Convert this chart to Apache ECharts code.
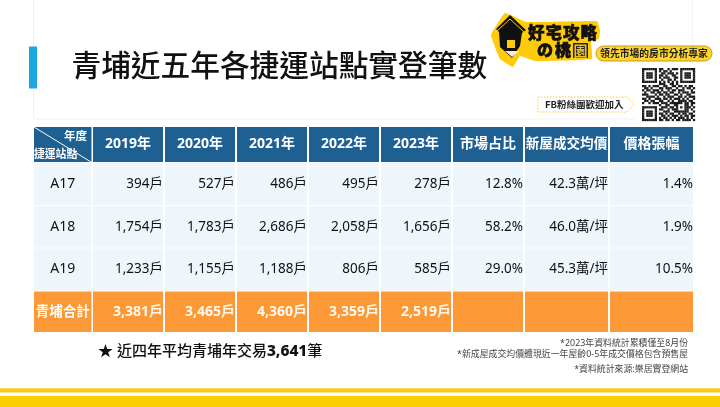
<!DOCTYPE html>
<html><head><meta charset="utf-8">
<style>html,body{margin:0;padding:0;background:#fff}#c{width:720px;height:407px}</style>
<script src="https://cdn.jsdelivr.net/npm/echarts@6/dist/echarts.min.js"></script>
</head><body><div id="c"></div>
<script>
const titleText = '青埔近五年各捷運站點實登筆數';
const years = ['2019年','2020年','2021年','2022年','2023年'];
const extraHeaders = ['市場占比','新屋成交均價','價格張幅'];
const stations = ['A17','A18','A19'];
const a17 = [394,527,486,495,278];
const a18 = [1754,1783,2686,2058,1656];
const a19 = [1233,1155,1188,806,585];
const totalLabel = '青埔合計';
const totals = [3381,3465,4360,3359,2519];
const share = [12.8,58.2,29.0];
const avgPrice = [42.3,46.0,45.3];
const priceChange = [1.4,1.9,10.5];
const fourYearAvg = 3641;
const notes = ['*2023年資料統計累積僅至8月份','*新成屋成交均價體現近一年屋齡0-5年成交價格包含預售屋','*資料統計來源:樂居實登網站'];

const colL = [34,93,165,237,309,381,453,525,610];
const colR = [91.5,163,235,307,379,451,523,608,693];
const rowT = [127,163,206,248.5,291.5];
const rowB = [162,205,247.5,290.5,332];
const BLUE='#1F6093', PALE='#EEF6FC', ORANGE='#FC9936';
const CJK='"Noto Sans","Noto Sans CJK TC",sans-serif';

const fmt = n => n.toLocaleString('en-US');
const cells = [];
function add(c,r,text,align,fill,bg,weight,size){cells.push({value:[c,r],text,align,fill,bg,weight,size});}
add(0,0,'','center','#fff',BLUE,'bold',14);
years.concat(extraHeaders).forEach((t,i)=>add(i+1,0,t,'center','#fff',BLUE,'bold',i===6?13.6:14));
[a17,a18,a19].forEach((arr,r)=>{
  add(0,r+1,stations[r],'center','#111',PALE,'normal',14);
  arr.forEach((v,i)=>add(i+1,r+1,fmt(v)+'戶','right','#111',PALE,'normal',13.5));
  add(6,r+1,share[r].toFixed(1)+'%','right','#111',PALE,'normal',13.5);
  add(7,r+1,avgPrice[r].toFixed(1)+'萬/坪','right','#111',PALE,'normal',13.5);
  add(8,r+1,priceChange[r].toFixed(1)+'%','right','#111',PALE,'normal',13.5);
});
add(0,4,totalLabel,'center','#fff',ORANGE,'bold',13.5);
totals.forEach((v,i)=>add(i+1,4,fmt(v)+'戶','right','#FFF8EE',ORANGE,'bold',14));
[6,7,8].forEach(c=>add(c,4,'','right','#fff',ORANGE,'bold',14));

const qr = [
'1111111011001011101111111',
'1000001010110100001000001',
'1011101001101110101011101',
'1011101011010011001011101',
'1011101010111001101011101',
'1000001001001101001000001',
'1111111010101010101111111',
'0000000011100110100000000',
'1101011100110011011010110',
'0110100011011100100101101',
'1011011101001011011100010',
'0100110110110110010111011',
'1110001011011001101001100',
'0011110100101110011010111',
'1101001110110101110101001',
'0110110011001010011110110',
'1001011101110111111011011',
'0000000010011001100011010',
'1111111001110110101011101',
'1000001011001011100011010',
'1011101000111001111111001',
'1011101011010110010110110',
'1011101001101011101011011',
'1000001010110101011101010',
'1111111011011010110111101'];
const qrRects=[];
const qx=642,qy=68,qs=53/25;
qr.forEach((row,j)=>[...row].forEach((b,i)=>{ if(b==='1') qrRects.push({type:'rect',shape:{x:qx+i*qs,y:qy+j*qs,width:qs+.15,height:qs+.15},style:{fill:'#1a1a1a'},z:6}); }));

const txt=(x,y,text,o)=>({type:'text',x,y,z:o.z||5,style:Object.assign({text,fill:'#111',align:'left',verticalAlign:'middle',fontFamily:CJK},o)});
const logoTop=[...'好宅攻略'].map((ch,i)=>txt(528+i*17.5,33,ch,{fontSize:16.5,fontWeight:900,fontFamily:'"Noto Sans CJK TC"',fill:'#111',stroke:'#111',lineWidth:.6}));
const logoBot=[...'の桃'].map((ch,i)=>txt(537+i*18,50,ch,{fontSize:16,fontWeight:900,fontFamily:'"Noto Sans CJK TC"',fill:'#111',stroke:'#111',lineWidth:.6}));
const deco=[
 {type:'rect',shape:{x:33.5,y:-2,width:659,height:121},style:{fill:'#fff',stroke:'#F2F2F2',lineWidth:1},z:1},
 {type:'rect',shape:{x:29,y:46.5,width:8,height:42},style:{fill:'#1CA7E0'},z:2},
 txt(71.5,65,titleText,{fontSize:29.7,fontFamily:'"Noto Sans CJK TC"',fontWeight:500,fill:'#111'}),
 {type:'polygon',shape:{smooth:0.08,points:[[505,13],[526,22],[597,21],[600,30],[599,39],[591,41],[592,59],[535,61],[520,56],[513,67],[500,59],[491,35]]},style:{fill:'#FFCB0A'},z:3},
 {type:'polygon',shape:{points:[[510,15],[526,30],[522,33],[520,46],[512,58],[500,47],[499,32],[496,29]]},style:{fill:'#111'},z:4},
 {type:'polyline',shape:{points:[[496,32],[510,19],[524,32]]},style:{stroke:'#FFCB0A',lineWidth:1,fill:null},z:5},
 {type:'rect',shape:{x:507,y:40,width:8,height:8},style:{fill:'#FFCB0A'},z:5},
 {type:'polygon',shape:{points:[[505,51],[519,51],[512,57]]},style:{fill:'#EFEFE0'},z:5},
 {type:'rect',shape:{x:573,y:43,width:15,height:15},style:{fill:'#222'},z:4},
 txt(573.5,50.5,'園',{fontSize:14,fontWeight:700,fontFamily:'"Noto Sans CJK TC"',fill:'#E8C020'}),
 {type:'rect',shape:{x:596,y:46,width:116,height:15,r:7.5},style:{fill:'#FFD62E',stroke:'#C79A18',lineWidth:1},z:4},
 txt(654,53.5,'領先市場的房市分析專家',{fontSize:9.8,fontWeight:700,fontFamily:'"Noto Sans CJK TC"',fill:'#222',align:'center'}),
 {type:'rect',shape:{x:635,y:64,width:60,height:62},style:{fill:'#fff'},z:4},
 {type:'polygon',shape:{points:[[538,97],[627,97],[634,104.5],[627,112],[538,112]]},style:{fill:'#fff',stroke:'#F2CF3E',lineWidth:1,lineDash:[1.5,1.5]},z:4},
 txt(545,104.5,'FB粉絲團歡迎加入',{fontSize:9.5,fontWeight:700,fontFamily:'"Noto Sans CJK TC"',fill:'#222'}),
 {type:'line',shape:{x1:34,y1:127,x2:91,y2:162},style:{stroke:'#fff',lineWidth:1},z:8},
 txt(87,137,'年度',{fontSize:11.5,fontWeight:700,fill:'#fff',align:'right',z:8}),
 txt(34,155,'捷運站點',{fontSize:10.8,fontWeight:700,fill:'#fff',z:8}),
 {type:'text',x:98,y:352,z:5,style:{text:'{n|★ 近四年平均青埔年交易}{b|'+fmt(fourYearAvg)+'}{n|筆}',rich:{n:{fontSize:15,fontFamily:CJK,fill:'#111',fontWeight:500},b:{fontSize:15.5,fontFamily:CJK,fill:'#111',fontWeight:800}},verticalAlign:'middle',align:'left'}},
 txt(688,343,notes[0],{fontSize:8.9,fill:'#444',align:'right'}),
 txt(688,354,notes[1],{fontSize:8.9,fill:'#444',align:'right'}),
 txt(688,369,notes[2],{fontSize:8.9,fill:'#444',align:'right'}),
 {type:'rect',shape:{x:0,y:388.3,width:720,height:4.3},style:{fill:'#F8C91C'},z:2},
 {type:'rect',shape:{x:0,y:396,width:720,height:11},style:{fill:'#FDCD05'},z:2}
].concat(logoTop,logoBot,qrRects);

const chart=echarts.init(document.getElementById('c'),null,{renderer:'canvas'});
chart.setOption({
 animation:false,
 backgroundColor:'#fff',
 grid:{left:0,right:0,top:0,bottom:0},
 xAxis:{type:'value',min:0,max:720,show:false},
 yAxis:{type:'value',min:0,max:407,inverse:true,show:false},
 graphic:{elements:deco},
 series:[{
  type:'custom',coordinateSystem:'cartesian2d',clip:false,z:3,silent:true,
  encode:{x:0,y:1},
  data:cells,
  renderItem(params,api){
   const c=api.value(0), r=api.value(1), d=cells[params.dataIndex];
   const p0=api.coord([colL[c],rowT[r]]), p1=api.coord([colR[c],rowB[r]]);
   const tx=d.align==='right'?p1[0]:(p0[0]+p1[0])/2;
   return {type:'group',children:[
    {type:'rect',shape:{x:p0[0],y:p0[1],width:p1[0]-p0[0],height:p1[1]-p0[1]},style:{fill:d.bg}},
    {type:'text',style:{x:tx,y:(p0[1]+p1[1])/2,text:d.text,align:d.align,verticalAlign:'middle',fill:d.fill,fontSize:d.size,fontWeight:d.weight,fontFamily:CJK}}
   ]};
  }
 }]
});
</script></body></html>
